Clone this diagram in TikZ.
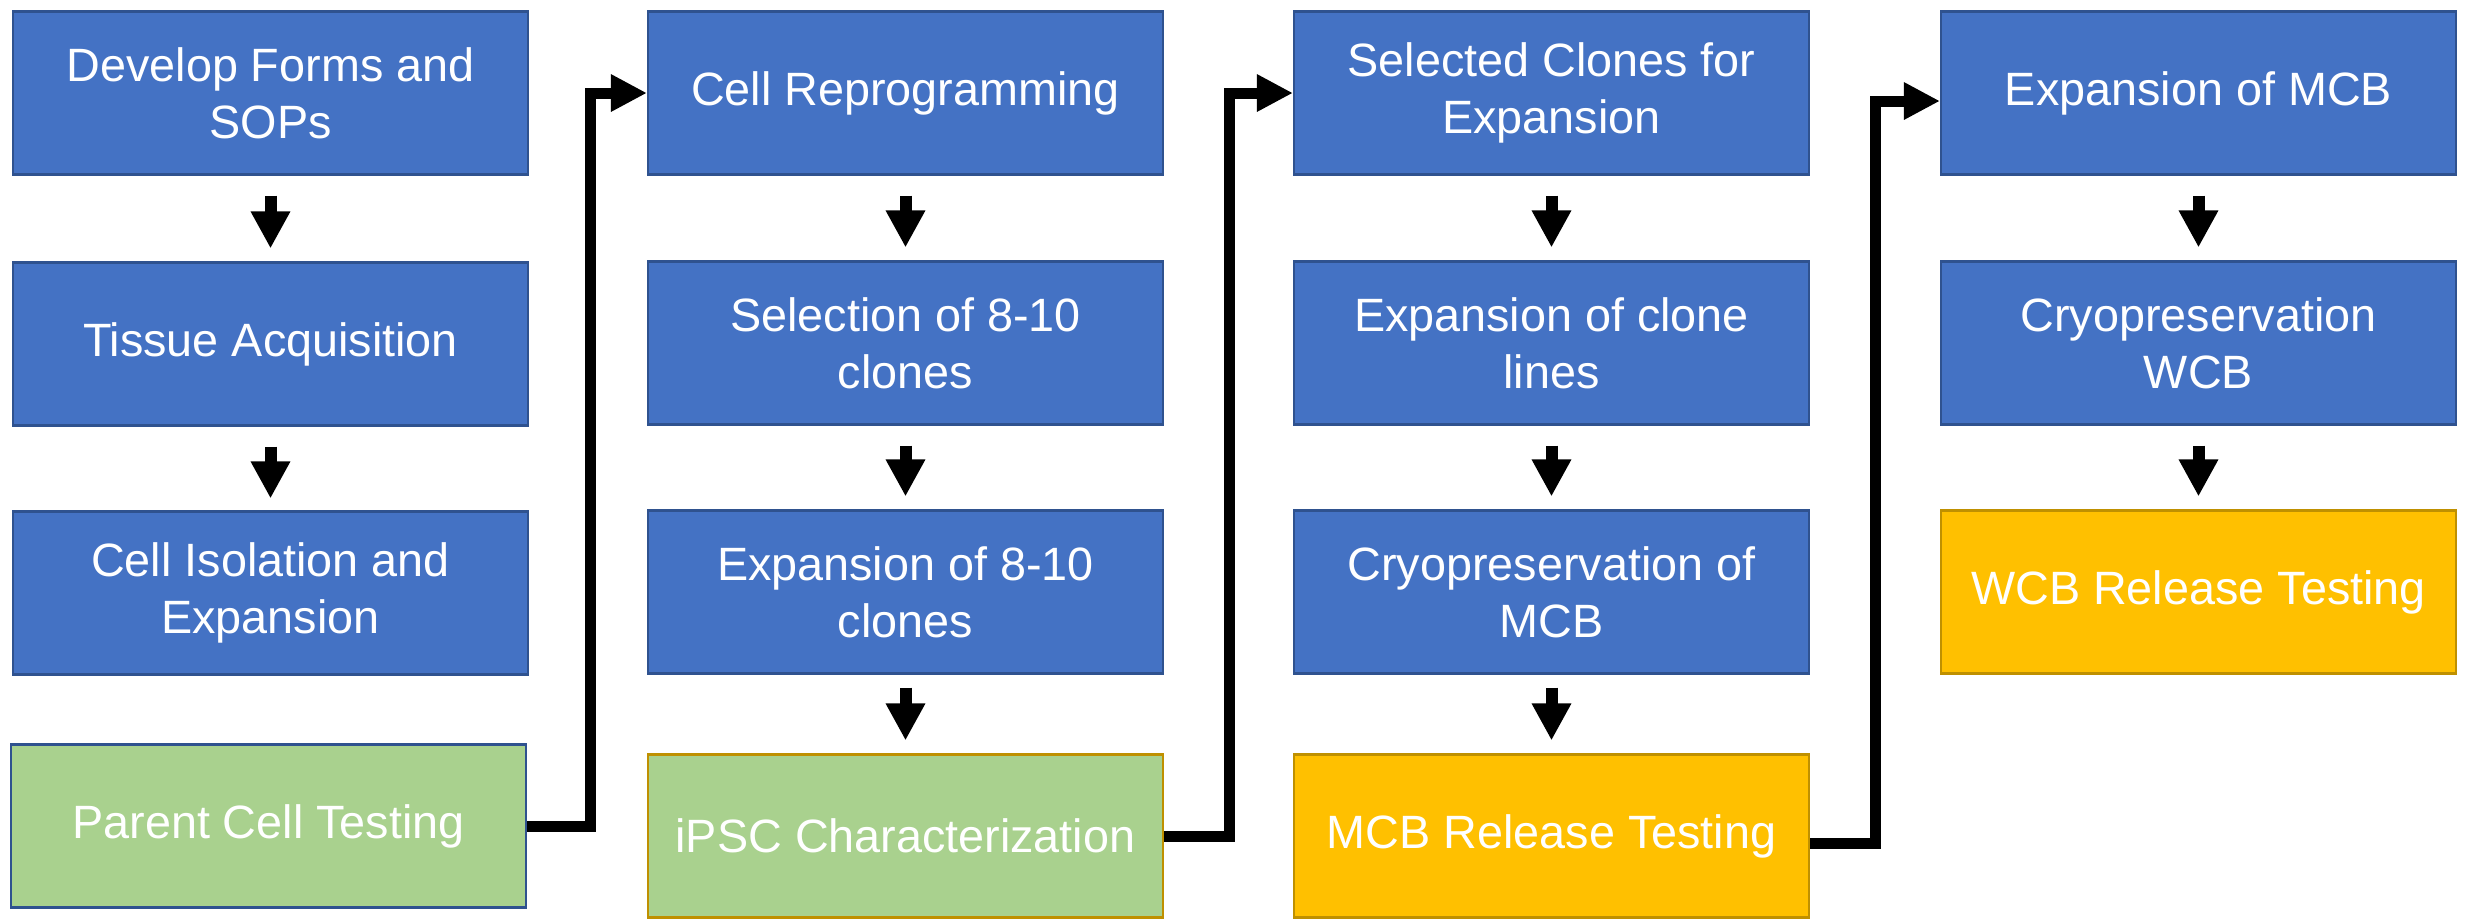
\documentclass[tikz,border=0pt]{standalone}
\usepackage{fontspec}
\setmainfont{Liberation Sans}
\usepackage{xcolor}
\usepackage{tikz}
\usetikzlibrary{arrows.meta}

\definecolor{procblue}{HTML}{4472C4}
\definecolor{procline}{HTML}{2F528F}
\definecolor{testgreen}{HTML}{A9D18E}
\definecolor{testgold}{HTML}{FFC000}
\definecolor{goldline}{HTML}{BF9000}

\begin{document}
\begin{tikzpicture}[
    every node/.style={font=\fontsize{13.3}{16.2}\selectfont, text=white},
    procbox/.style={draw=procline, line width=0.6pt, rectangle, fill=procblue, align=center, minimum width=5.15cm, minimum height=1.63cm, inner sep=0pt},
    greenbox/.style={procbox, fill=testgreen},
    goldbox/.style={procbox, draw=goldline, fill=testgold},
    downarr/.style={-{Triangle[width=0.37cm, length=0.37cm]}, line width=0.12cm, black},
    elbowarr/.style={-{Triangle[width=0.35cm, length=0.36cm]}, line width=0.11cm, black}
]
    \useasboundingbox (0,0) rectangle (24.73,-9.2);

    % Column 1: parent cells
    \node[procbox] (dev_forms) at (2.705,-0.93) {Develop Forms and\\SOPs};
    \node[procbox] (tissue_acq) at (2.705,-3.44) {Tissue Acquisition};
    \node[procbox] (cell_iso) at (2.705,-5.93) {Cell Isolation and\\Expansion};
    \node[greenbox, draw=procline] (parent_test) at (2.685,-8.26) {Parent Cell Testing};

    % Column 2: reprogramming
    \node[procbox] (reprog) at (9.055,-0.93) {Cell Reprogramming};
    \node[procbox] (sel_clones) at (9.055,-3.43) {Selection of 8-10\\clones};
    \node[procbox] (exp_clones) at (9.055,-5.92) {Expansion of 8-10\\clones};
    \node[greenbox, draw=goldline] (ipsc_char) at (9.055,-8.36) {iPSC Characterization};

    % Column 3: master cell bank
    \node[procbox] (sel_exp) at (15.515,-0.93) {Selected Clones for\\Expansion};
    \node[procbox] (exp_lines) at (15.515,-3.43) {Expansion of clone\\lines};
    \node[procbox] (cryo_mcb) at (15.515,-5.92) {Cryopreservation of\\MCB};
    \node[goldbox] (mcb_test) at (15.515,-8.36) {MCB Release Testing};

    % Column 4: working cell bank
    \node[procbox] (exp_mcb) at (21.985,-0.93) {Expansion of MCB};
    \node[procbox] (cryo_wcb) at (21.985,-3.43) {Cryopreservation\\WCB};
    \node[goldbox] (wcb_test) at (21.985,-5.92) {WCB Release Testing};

    % Edges down the columns
    \draw[downarr] ([yshift=-0.2cm]dev_forms.south) -- ([yshift=0.13cm]tissue_acq.north);
    \draw[downarr] ([yshift=-0.2cm]tissue_acq.south) -- ([yshift=0.12cm]cell_iso.north);

    \draw[downarr] ([yshift=-0.2cm]reprog.south) -- ([yshift=0.13cm]sel_clones.north);
    \draw[downarr] ([yshift=-0.2cm]sel_clones.south) -- ([yshift=0.13cm]exp_clones.north);
    \draw[downarr] ([yshift=-0.13cm]exp_clones.south) -- ([yshift=0.13cm]ipsc_char.north);

    \draw[downarr] ([yshift=-0.2cm]sel_exp.south) -- ([yshift=0.13cm]exp_lines.north);
    \draw[downarr] ([yshift=-0.2cm]exp_lines.south) -- ([yshift=0.13cm]cryo_mcb.north);
    \draw[downarr] ([yshift=-0.13cm]cryo_mcb.south) -- ([yshift=0.13cm]mcb_test.north);

    \draw[downarr] ([yshift=-0.2cm]exp_mcb.south) -- ([yshift=0.13cm]cryo_wcb.north);
    \draw[downarr] ([yshift=-0.2cm]cryo_wcb.south) -- ([yshift=0.13cm]wcb_test.north);

    % Edges between the columns
    \draw[elbowarr] (parent_test.east) -- ++(0.63,0) |- (reprog.west);
    \draw[elbowarr] (ipsc_char.east) -- ++(0.65,0) |- (sel_exp.west);
    \draw[elbowarr] ([yshift=-0.07cm]mcb_test.east) -- ++(0.65,0) |- ([yshift=-0.08cm]exp_mcb.west);
\end{tikzpicture}
\end{document}
